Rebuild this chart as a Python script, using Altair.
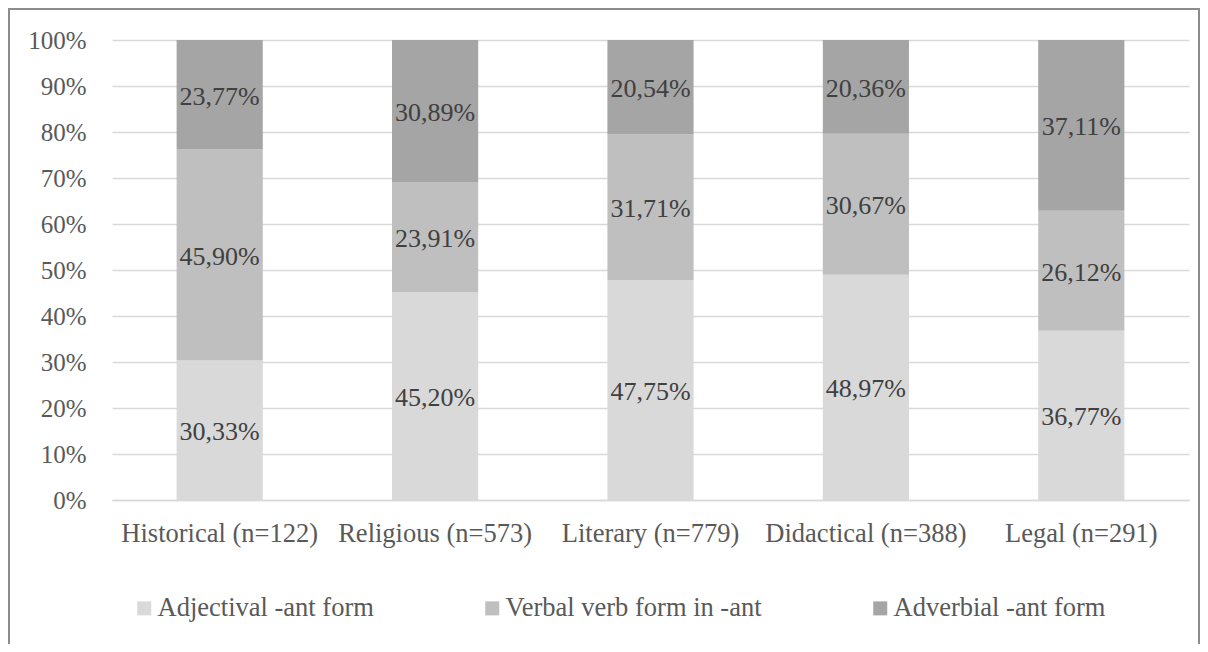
import altair as alt
import pandas as pd

categories = ["Historical (n=122)", "Religious (n=573)", "Literary (n=779)",
              "Didactical (n=388)", "Legal (n=291)"]
series = ["Adjectival -ant form", "Verbal verb form in -ant", "Adverbial -ant form"]
adjectival = [30.33, 45.20, 47.75, 48.97, 36.77]
verbal = [45.90, 23.91, 31.71, 30.67, 26.12]
adverbial = [23.77, 30.89, 20.54, 20.36, 37.11]
colors = ["#d9d9d9", "#bfbfbf", "#a5a5a5"]

rows = []
for ci, cat in enumerate(categories):
    for si, (name, vals) in enumerate(zip(series, [adjectival, verbal, adverbial])):
        rows.append({"category": cat, "series": name, "idx": si, "value": vals[ci]})
df = pd.DataFrame(rows)

FONT = "Liberation Serif"

base = alt.Chart(df)

x_enc = alt.X("category:N", sort=categories,
              scale=alt.Scale(paddingInner=0.6, paddingOuter=0.3),
              axis=alt.Axis(title=None, labelAngle=0, ticks=False, tickSize=0,
                            labelPadding=20, labelFontSize=26.5, labelFont=FONT,
                            labelColor="#595959", domainColor="#d9d9d9",
                            domainWidth=1.5, grid=False, labelLimit=400))

bars = base.mark_bar().encode(
    x=x_enc,
    y=alt.Y("sum(value):Q", stack="zero",
            scale=alt.Scale(domain=[0, 100], nice=False),
            axis=alt.Axis(title=None, values=list(range(0, 101, 10)),
                          labelExpr="datum.value + '%'", ticks=False, tickSize=0,
                          domain=False, labelPadding=26, labelFontSize=25,
                          labelFont=FONT, labelColor="#595959",
                          gridColor="#d9d9d9", gridWidth=1.5)),
    color=alt.Color("series:N", sort=series,
                    scale=alt.Scale(domain=series, range=colors),
                    legend=alt.Legend(title=None, orient="none", direction="horizontal",
                                      legendX=19, legendY=555, symbolType="square",
                                      symbolSize=196, symbolStrokeWidth=0,
                                      labelFont=FONT, labelFontSize=26.5,
                                      labelColor="#595959", labelOffset=0,
                                      columnPadding=105, padding=0, labelLimit=400)),
    order=alt.Order("idx:Q", sort="ascending"),
)

labels = base.transform_window(
    cum="sum(value)", groupby=["category"], sort=[alt.SortField("idx")],
    frame=[None, 0]
).transform_calculate(
    mid="datum.cum - datum.value / 2",
    txt="replace(format(datum.value, '.2f'), '.', ',') + '%'"
).mark_text(font=FONT, fontSize=26, color="#404040", baseline="middle", dy=2).encode(
    x=alt.X("category:N", sort=categories),
    y=alt.Y("mid:Q"),
    text="txt:N",
)

border = alt.Chart(pd.DataFrame({"a": [0]})).mark_rect(
    fill=None, stroke="#8c8c8c", strokeWidth=2
).encode(
    x=alt.value(-103), x2=alt.value(1087), y=alt.value(-31), y2=alt.value(640)
)

chart = alt.layer(bars, labels, border).properties(
    width=1077, height=460,
    autosize=alt.AutoSizeParams(type="none"),
    padding={"left": 104, "top": 32, "right": 11, "bottom": 144},
).configure_view(stroke=None)

chart.save("out.html", embed_options={"renderer": "svg", "actions": False})
